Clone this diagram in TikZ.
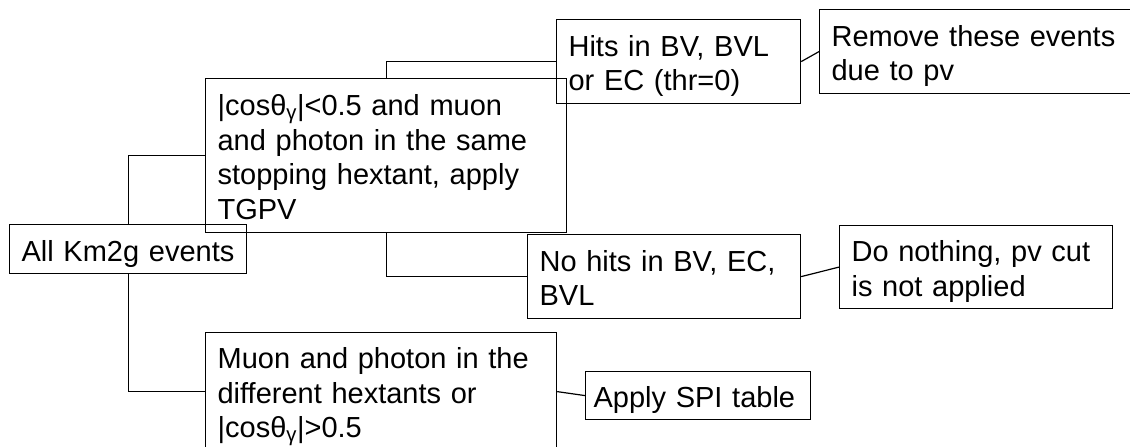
\documentclass[tikz,border=0pt]{standalone}
\usepackage{fontspec}
\setmainfont{Liberation Sans}

\begin{document}
\begin{tikzpicture}[x=1pt,y=-1pt,
  box/.style={draw,line width=1.2pt,anchor=north west,align=left,
    inner xsep=12pt,inner ysep=0pt,font=\fontsize{29}{34.5}\selectfont,
    execute at begin node={\rule{0pt}{31pt}},
    execute at end node={\rule[-7pt]{0pt}{7pt}}}]
\useasboundingbox (0,0) rectangle (1130,447);
\node[box,text width=213pt,minimum height=49pt] (allev) at (9,224) {All Km2g events};
\node[box,text width=337pt,minimum height=154pt] (cond) at (205,78)
  {|cosθ\textsubscript{γ}|<0.5 and muon\\and photon in the same\\stopping hextant, apply\\TGPV};
\node[box,text width=327pt,minimum height=118pt] (muon) at (205,332)
  {Muon and photon in the\\different hextants or\\|cosθ\textsubscript{γ}|>0.5};
\node[box,text width=220pt,minimum height=84pt] (hits) at (556,19) {Hits in BV, BVL\\or EC (thr=0)};
\node[box,text width=249pt,minimum height=84pt] (nohits) at (527,234) {No hits in BV, EC,\\BVL};
\node[box,text width=289pt,minimum height=84pt] (remove) at (819,9) {Remove these events\\due to pv};
\node[box,text width=249pt,minimum height=83pt] (noact) at (839,225) {Do nothing, pv cut\\is not applied};
\node[box,inner xsep=8pt,text width=209pt,minimum height=48pt] (spi) at (585,371) {Apply SPI table};
% tree branches
\draw[line width=1.2pt] (allev.north) |- (cond.west);
\draw[line width=1.2pt] (allev.south) |- (muon.west);
\draw[line width=1.2pt] (cond.north) |- (hits.west);
\draw[line width=1.2pt] (cond.south) |- (nohits.west);
\foreach \a/\b in {hits/remove, nohits/noact, muon/spi}
  \draw[line width=1.2pt] (\a.east) -- (\b.west);
\end{tikzpicture}
\end{document}
